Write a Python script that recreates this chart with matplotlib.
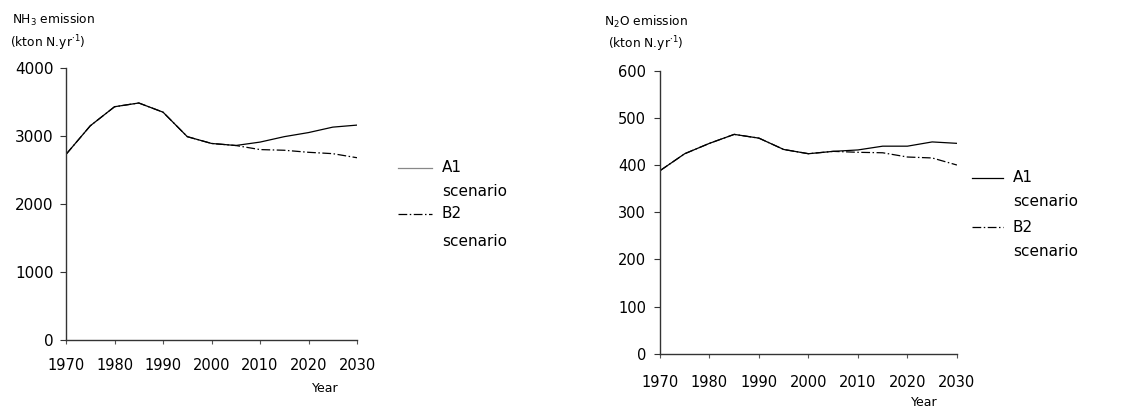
import matplotlib
matplotlib.use("Agg")
import matplotlib.pyplot as plt
from matplotlib.lines import Line2D

years = [1970, 1975, 1980, 1985, 1990, 1995, 2000, 2005, 2010, 2015, 2020, 2025, 2030]

nh3_a1 = [2730, 3150, 3430, 3485, 3350, 2990, 2890, 2860, 2910, 2990, 3050, 3130, 3160]
nh3_b2 = [2730, 3150, 3430, 3485, 3350, 2990, 2890, 2860, 2800, 2790, 2760, 2740, 2680]

n2o_a1 = [388, 424, 446, 465, 457, 433, 424, 429, 432, 440, 440, 449, 446]
n2o_b2 = [388, 424, 446, 465, 457, 433, 424, 429, 427, 426, 417, 415, 400]

year_ticks = [1970, 1980, 1990, 2000, 2010, 2020, 2030]
nh3_ticks = [0, 1000, 2000, 3000, 4000]
n2o_ticks = [0, 100, 200, 300, 400, 500, 600]

plt.rcParams["font.family"] = ["DejaVu Sans"]

fig = plt.figure(figsize=(11.33, 4.08), dpi=100)
ax1 = fig.add_axes([0.0583, 0.1667, 0.2568, 0.6667])
ax2 = fig.add_axes([0.5825, 0.1331, 0.2621, 0.6936])

dashdot = (0, (7, 2, 1.2, 2))


def style(ax, yticks, ymax, xpad, ypad, ysize):
    ax.set_xlim(1970, 2030)
    ax.set_ylim(0, ymax)
    ax.set_xticks(year_ticks)
    ax.set_yticks(yticks)
    for s in ("top", "right"):
        ax.spines[s].set_visible(False)
    for s in ("left", "bottom"):
        ax.spines[s].set_linewidth(1.0)
        ax.spines[s].set_color("#333333")
    ax.tick_params(axis="x", direction="out", length=3, width=0.8,
                   color="#555555", pad=xpad, labelsize=10.5)
    ax.tick_params(axis="y", direction="out", length=4, width=0.8,
                   color="#333333", pad=ypad, labelsize=ysize)


# NH3 panel
ax1.plot(years, nh3_b2, color="black", lw=0.9, linestyle=dashdot)
ax1.plot(years, nh3_a1, color="black", lw=0.9)
style(ax1, nh3_ticks, 4000, 10, 5, 11)

# N2O panel
ax2.plot(years, n2o_b2, color="black", lw=0.9, linestyle=dashdot)
ax2.plot(years, n2o_a1, color="black", lw=0.9)
style(ax2, n2o_ticks, 600, 12, 6, 10.5)

W, H = 1133, 408


def fx(px):
    return px / W


def fy(py):
    return 1 - py / H


# Axis titles in the top-left corner of each panel
fig.text(fx(12), fy(20), r"NH$_3$ emission", fontsize=8.8, va="center", ha="left")
fig.text(fx(10), fy(43), r"(kton N.yr$^{\cdot 1}$)", fontsize=8.8, va="center", ha="left")
fig.text(fx(604), fy(22), r"N$_2$O emission", fontsize=8.8, va="center", ha="left")
fig.text(fx(608), fy(44), r"(kton N.yr$^{\cdot 1}$)", fontsize=8.8, va="center", ha="left")

fig.text(fx(325), fy(388), "Year", fontsize=9, ha="center", va="center")
fig.text(fx(924), fy(402), "Year", fontsize=9, ha="center", va="center")


def legend(x0, x1, xt, y_a1, y_a1b, y_b2, y_b2b, a1_color):
    fig.add_artist(Line2D([fx(x0), fx(x1)], [fy(y_a1), fy(y_a1)],
                          color=a1_color, lw=0.9, transform=fig.transFigure))
    fig.add_artist(Line2D([fx(x0), fx(x1)], [fy(y_b2), fy(y_b2)],
                          color="black", lw=0.9, linestyle=dashdot,
                          transform=fig.transFigure))
    fig.text(fx(xt), fy(y_a1), "A1", fontsize=11, va="center", ha="left")
    fig.text(fx(xt), fy(y_a1b), "scenario", fontsize=11, va="center", ha="left")
    fig.text(fx(xt), fy(y_b2), "B2", fontsize=11, va="center", ha="left")
    fig.text(fx(xt), fy(y_b2b), "scenario", fontsize=11, va="center", ha="left")


legend(398, 432, 442, 168, 192, 214, 242, "#888888")
legend(972, 1003, 1013, 178, 201, 227, 252, "black")

fig.savefig("out.png", dpi=100)
